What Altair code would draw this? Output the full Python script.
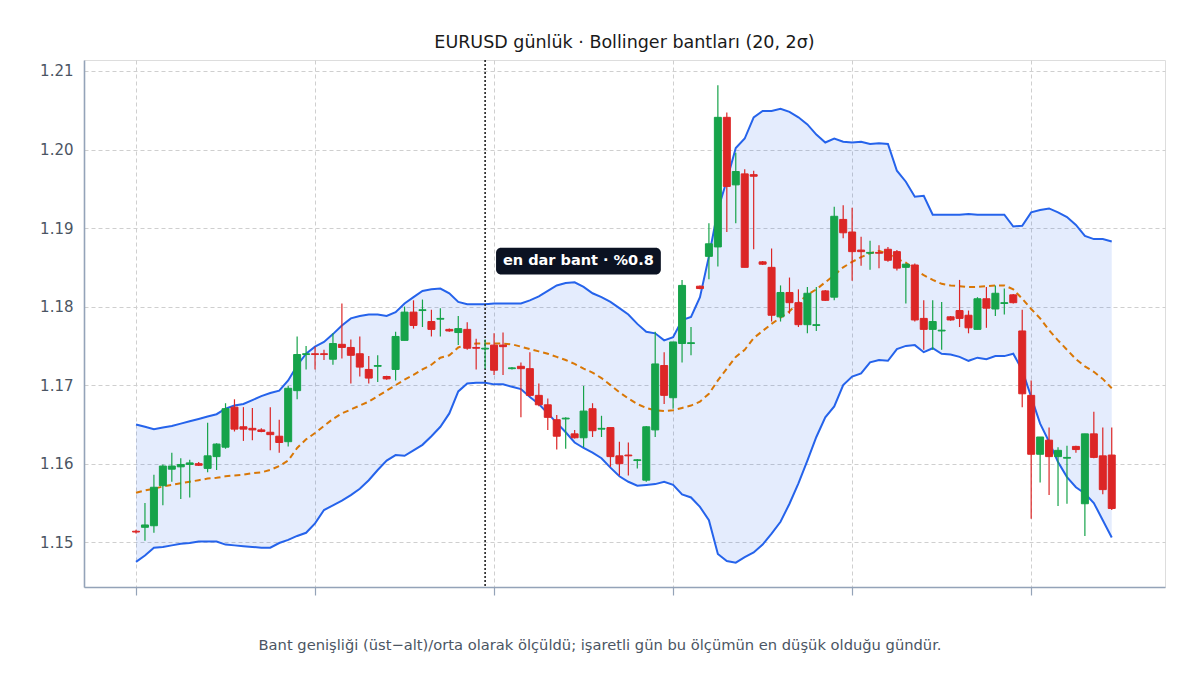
import altair as alt
import pandas as pd

# ---------------- data ----------------
day_index = list(range(110))

opens = [1.1514, 1.1519, 1.1521, 1.1572, 1.1593, 1.1596, 1.1599, 1.1600, 1.1594, 1.1609,
         1.1621, 1.1672, 1.1647, 1.1645, 1.1643, 1.1640, 1.1635, 1.1628, 1.1693, 1.1739,
         1.1740, 1.1740, 1.1733, 1.1752, 1.1748, 1.1740, 1.1720, 1.1724, 1.1711, 1.1720,
         1.1757, 1.1793, 1.1795, 1.1781, 1.1784, 1.1771, 1.1767, 1.1771, 1.1748, 1.1746,
         1.1751, 1.1751, 1.1721, 1.1724, 1.1721, 1.1687, 1.1675, 1.1656, 1.1657, 1.1638,
         1.1633, 1.1670, 1.1644, 1.1646, 1.1610, 1.1611, 1.1604, 1.1579, 1.1643, 1.1725,
         1.1684, 1.1753, 1.1753, 1.1826, 1.1864, 1.1876, 1.2041, 1.1955, 1.1969, 1.1968,
         1.1857, 1.1850, 1.1787, 1.1818, 1.1805, 1.1777, 1.1776, 1.1820, 1.1812, 1.1911,
         1.1895, 1.1872, 1.1868, 1.1869, 1.1873, 1.1870, 1.1850, 1.1853, 1.1785, 1.1771,
         1.1769, 1.1787, 1.1795, 1.1789, 1.1771, 1.1810, 1.1797, 1.1804, 1.1815, 1.1769,
         1.1687, 1.1612, 1.1630, 1.1609, 1.1607, 1.1622, 1.1549, 1.1638, 1.1610, 1.1611]

highs = [1.1516, 1.1550, 1.1586, 1.1599, 1.1614, 1.1607, 1.1605, 1.1602, 1.1652, 1.1626,
         1.1677, 1.1682, 1.1672, 1.1671, 1.1645, 1.1672, 1.1656, 1.1699, 1.1762, 1.1750,
         1.1749, 1.1745, 1.1766, 1.1804, 1.1758, 1.1762, 1.1737, 1.1738, 1.1712, 1.1768,
         1.1800, 1.1808, 1.1809, 1.1796, 1.1798, 1.1772, 1.1788, 1.1780, 1.1759, 1.1758,
         1.1766, 1.1767, 1.1723, 1.1729, 1.1742, 1.1702, 1.1683, 1.1662, 1.1659, 1.1643,
         1.1699, 1.1677, 1.1661, 1.1646, 1.1628, 1.1627, 1.1606, 1.1648, 1.1768, 1.1742,
         1.1755, 1.1834, 1.1774, 1.1827, 1.1906, 1.2082, 1.2047, 1.1996, 1.1975, 1.1973,
         1.1858, 1.1874, 1.1827, 1.1837, 1.1822, 1.1825, 1.1825, 1.1821, 1.1927, 1.1929,
         1.1926, 1.1889, 1.1884, 1.1878, 1.1876, 1.1872, 1.1855, 1.1855, 1.1808, 1.1808,
         1.1806, 1.1788, 1.1834, 1.1795, 1.1812, 1.1825, 1.1827, 1.1823, 1.1816, 1.1796,
         1.1706, 1.1634, 1.1646, 1.1621, 1.1623, 1.1623, 1.1638, 1.1666, 1.1646, 1.1646]

lows = [1.1511, 1.1502, 1.1512, 1.1547, 1.1577, 1.1555, 1.1557, 1.1597, 1.1589, 1.1592,
        1.1619, 1.1641, 1.1629, 1.1630, 1.1640, 1.1617, 1.1614, 1.1622, 1.1682, 1.1720,
        1.1720, 1.1732, 1.1726, 1.1734, 1.1702, 1.1711, 1.1702, 1.1704, 1.1707, 1.1706,
        1.1757, 1.1772, 1.1774, 1.1762, 1.1762, 1.1768, 1.1751, 1.1745, 1.1720, 1.1721,
        1.1713, 1.1713, 1.1720, 1.1659, 1.1685, 1.1673, 1.1643, 1.1618, 1.1619, 1.1632,
        1.1621, 1.1634, 1.1634, 1.1596, 1.1585, 1.1585, 1.1594, 1.1577, 1.1634, 1.1676,
        1.1670, 1.1729, 1.1738, 1.1822, 1.1835, 1.1851, 1.1895, 1.1906, 1.1850, 1.1873,
        1.1853, 1.1781, 1.1781, 1.1791, 1.1774, 1.1766, 1.1769, 1.1807, 1.1808, 1.1887,
        1.1833, 1.1852, 1.1847, 1.1849, 1.1857, 1.1846, 1.1804, 1.1781, 1.1745, 1.1745,
        1.1745, 1.1782, 1.1774, 1.1766, 1.1771, 1.1773, 1.1788, 1.1790, 1.1804, 1.1672,
        1.1530, 1.1576, 1.1560, 1.1546, 1.1549, 1.1614, 1.1508, 1.1607, 1.1561, 1.1541]

closes = [1.1513, 1.1522, 1.1570, 1.1597, 1.1597, 1.1599, 1.1601, 1.1598, 1.1610, 1.1625,
          1.1670, 1.1644, 1.1644, 1.1643, 1.1641, 1.1637, 1.1627, 1.1696, 1.1739, 1.1740,
          1.1739, 1.1739, 1.1753, 1.1748, 1.1738, 1.1723, 1.1709, 1.1725, 1.1708, 1.1762,
          1.1793, 1.1776, 1.1796, 1.1771, 1.1785, 1.1769, 1.1772, 1.1747, 1.1747, 1.1747,
          1.1719, 1.1749, 1.1722, 1.1721, 1.1687, 1.1675, 1.1659, 1.1635, 1.1658, 1.1633,
          1.1667, 1.1642, 1.1645, 1.1609, 1.1600, 1.1610, 1.1605, 1.1647, 1.1727, 1.1687,
          1.1755, 1.1827, 1.1754, 1.1823, 1.1880, 1.2041, 1.1953, 1.1972, 1.1850, 1.1966,
          1.1854, 1.1789, 1.1818, 1.1805, 1.1777, 1.1817, 1.1777, 1.1808, 1.1915, 1.1894,
          1.1870, 1.1870, 1.1869, 1.1868, 1.1859, 1.1849, 1.1854, 1.1783, 1.1771, 1.1781,
          1.1770, 1.1783, 1.1785, 1.1773, 1.1810, 1.1798, 1.1817, 1.1805, 1.1805, 1.1689,
          1.1612, 1.1634, 1.1609, 1.1617, 1.1608, 1.1618, 1.1638, 1.1608, 1.1567, 1.1543]

upper_band = [1.1650, 1.1647, 1.1644, 1.1646, 1.1648, 1.1651, 1.1654, 1.1657, 1.1660, 1.1663,
              1.1670, 1.1674, 1.1676, 1.1681, 1.1686, 1.1690, 1.1693, 1.1706, 1.1725, 1.1740,
              1.1749, 1.1755, 1.1765, 1.1776, 1.1785, 1.1788, 1.1790, 1.1790, 1.1788, 1.1793,
              1.1804, 1.1812, 1.1820, 1.1822, 1.1823, 1.1817, 1.1806, 1.1803, 1.1803, 1.1803,
              1.1804, 1.1804, 1.1804, 1.1804, 1.1808, 1.1813, 1.1820, 1.1827, 1.1830, 1.1831,
              1.1825, 1.1817, 1.1812, 1.1806, 1.1798, 1.1790, 1.1778, 1.1768, 1.1766, 1.1757,
              1.1761, 1.1783, 1.1787, 1.1812, 1.1864, 1.1923, 1.1961, 1.2002, 1.2014, 1.2041,
              1.2049, 1.2049, 1.2052, 1.2048, 1.2041, 1.2032, 1.2019, 1.2009, 1.2014, 1.2010,
              1.2009, 1.2010, 1.2007, 1.2008, 1.2007, 1.1973, 1.1959, 1.1940, 1.1941, 1.1917,
              1.1917, 1.1917, 1.1917, 1.1918, 1.1917, 1.1917, 1.1917, 1.1917, 1.1902, 1.1903,
              1.1920, 1.1923, 1.1925, 1.1920, 1.1914, 1.1904, 1.1890, 1.1886, 1.1886, 1.1883]

middle_band = [1.1563, 1.1566, 1.1568, 1.1571, 1.1573, 1.1575, 1.1577, 1.1579, 1.1581, 1.1582,
               1.1584, 1.1585, 1.1586, 1.1588, 1.1589, 1.1592, 1.1597, 1.1604, 1.1620, 1.1631,
               1.1639, 1.1648, 1.1657, 1.1664, 1.1669, 1.1674, 1.1679, 1.1686, 1.1693, 1.1700,
               1.1707, 1.1713, 1.1720, 1.1726, 1.1735, 1.1738, 1.1748, 1.1752, 1.1753, 1.1753,
               1.1753, 1.1753, 1.1752, 1.1749, 1.1746, 1.1743, 1.1740, 1.1736, 1.1732, 1.1727,
               1.1721, 1.1716, 1.1709, 1.1700, 1.1691, 1.1683, 1.1676, 1.1671, 1.1668, 1.1667,
               1.1668, 1.1671, 1.1674, 1.1679, 1.1689, 1.1706, 1.1721, 1.1736, 1.1745, 1.1760,
               1.1769, 1.1778, 1.1786, 1.1794, 1.1805, 1.1815, 1.1822, 1.1831, 1.1840, 1.1850,
               1.1857, 1.1863, 1.1868, 1.1871, 1.1867, 1.1861, 1.1856, 1.1847, 1.1840, 1.1834,
               1.1829, 1.1827, 1.1826, 1.1825, 1.1825, 1.1826, 1.1827, 1.1827, 1.1822, 1.1810,
               1.1797, 1.1785, 1.1770, 1.1757, 1.1745, 1.1733, 1.1724, 1.1717, 1.1708, 1.1696]

lower_band = [1.1475, 1.1483, 1.1493, 1.1494, 1.1496, 1.1498, 1.1499, 1.1501, 1.1501, 1.1501,
              1.1497, 1.1496, 1.1495, 1.1494, 1.1493, 1.1493, 1.1499, 1.1503, 1.1508, 1.1512,
              1.1524, 1.1541, 1.1547, 1.1553, 1.1560, 1.1568, 1.1579, 1.1592, 1.1604, 1.1611,
              1.1610, 1.1617, 1.1624, 1.1635, 1.1647, 1.1664, 1.1692, 1.1702, 1.1703, 1.1703,
              1.1701, 1.1701, 1.1698, 1.1695, 1.1685, 1.1676, 1.1664, 1.1652, 1.1640, 1.1627,
              1.1620, 1.1614, 1.1607, 1.1595, 1.1584, 1.1577, 1.1572, 1.1573, 1.1574, 1.1577,
              1.1573, 1.1561, 1.1557, 1.1545, 1.1528, 1.1485, 1.1476, 1.1474, 1.1481, 1.1487,
              1.1497, 1.1511, 1.1526, 1.1549, 1.1575, 1.1604, 1.1634, 1.1659, 1.1673, 1.1700,
              1.1711, 1.1715, 1.1729, 1.1732, 1.1731, 1.1746, 1.1750, 1.1751, 1.1742, 1.1747,
              1.1740, 1.1739, 1.1736, 1.1731, 1.1735, 1.1733, 1.1737, 1.1737, 1.1740, 1.1719,
              1.1685, 1.1651, 1.1628, 1.1602, 1.1583, 1.1570, 1.1562, 1.1550, 1.1528, 1.1506]

narrowest_day = [39]
note_label = ["en dar bant · %0.8"]
y_ticks = [1.15, 1.16, 1.17, 1.18, 1.19, 1.20, 1.21]
x_ticks = [0, 20, 40, 60, 80, 100]

title_text = "EURUSD günlük · Bollinger bantları (20, 2σ)"
caption_text = ("Bant genişliği (üst−alt)/orta olarak ölçüldü; "
                "işaretli gün bu ölçümün en düşük olduğu gündür.")

df = pd.DataFrame({
    "i": day_index, "open": opens, "high": highs, "low": lows, "close": closes,
    "upper": upper_band, "middle": middle_band, "lower": lower_band,
})

GREEN = "#16a34a"
RED = "#dc2626"
BLUE = "#2563eb"
ORANGE = "#d97706"
AXIS_GRAY = "#94a3b8"
LABEL_GRAY = "#4b5563"

x_scale = alt.Scale(domain=[-5.81, 114.95], nice=False, zero=False, padding=0)
y_scale = alt.Scale(domain=[1.1443, 1.2114], nice=False, zero=False, padding=0)

x_axis = alt.Axis(values=x_ticks, labels=False, title=None, grid=True,
                  gridColor="#cfcfcf", gridDash=[4, 3], gridWidth=1,
                  domainColor=AXIS_GRAY, domainWidth=1.6,
                  tickColor=AXIS_GRAY, tickSize=8, tickWidth=1.2)
y_axis = alt.Axis(values=y_ticks, format=".2f", title=None, grid=True,
                  gridColor="#cfcfcf", gridDash=[4, 3], gridWidth=1,
                  domainColor=AXIS_GRAY, domainWidth=1.6, ticks=False,
                  labelColor=LABEL_GRAY, labelFontSize=15, labelPadding=11,
                  labelFont="DejaVu Sans")


def X(field="i"):
    return alt.X(f"{field}:Q", scale=x_scale, axis=x_axis)


def Y(field):
    return alt.Y(f"{field}:Q", scale=y_scale, axis=y_axis)


base = alt.Chart(df)

band = base.mark_area(color=BLUE, opacity=0.12).encode(
    x=X(), y=Y("lower"), y2="upper:Q")
upper_line = base.mark_line(color=BLUE, strokeWidth=2).encode(x=X(), y=Y("upper"))
lower_line = base.mark_line(color=BLUE, strokeWidth=2).encode(x=X(), y=Y("lower"))
mid_line = base.mark_line(color=ORANGE, strokeWidth=2, strokeDash=[6, 4]).encode(
    x=X(), y=Y("middle"))

candle_color = alt.condition("datum.close >= datum.open", alt.value(GREEN), alt.value(RED))

wicks = base.mark_rule(strokeWidth=1.2).encode(
    x=X(), y=Y("low"), y2="high:Q", color=candle_color)
bodies = base.mark_bar(width=7, strokeWidth=1).encode(
    x=X(), y=Y("open"), y2="close:Q", color=candle_color, stroke=candle_color)

marker = alt.Chart(pd.DataFrame({"i": narrowest_day})).mark_rule(
    color="#222222", strokeDash=[2, 2], strokeWidth=1.6).encode(x=X())

note_df = pd.DataFrame({"x0": [40.22], "x1": [58.63], "y0": [1.1875], "y1": [1.1841],
                        "xc": [49.42], "yc": [1.1858], "label": note_label})
note_box = alt.Chart(note_df).mark_rect(color="#0b1222", cornerRadius=5).encode(
    x=X("x0"), x2="x1:Q", y=Y("y0"), y2="y1:Q")
note_text = alt.Chart(note_df).mark_text(
    color="white", fontSize=14.5, fontWeight="bold", font="DejaVu Sans",
    align="center", baseline="middle").encode(x=X("xc"), y=Y("yc"), text="label:N")

caption = alt.Chart(pd.DataFrame({"t": [caption_text]})).mark_text(
    color=LABEL_GRAY, fontSize=14.7, font="DejaVu Sans", align="center",
    baseline="middle").encode(x=alt.value(516), y=alt.value(586), text="t:N")

chart = alt.layer(
    band, upper_line, lower_line, mid_line, marker, wicks, bodies, note_box, note_text, caption
).properties(
    width=1081, height=527,
    title=alt.TitleParams(title_text, font="DejaVu Sans", fontSize=17.5,
                          fontWeight="normal", color="#1a1a1a", anchor="middle", offset=8),
    autosize=alt.AutoSizeParams(type="none"),
    padding={"left": 76, "top": 52, "right": 27, "bottom": 80},
).configure_view(stroke=None).configure(font="DejaVu Sans", background="white")

chart.save("out.html", embed_options={"renderer": "svg", "actions": False})
